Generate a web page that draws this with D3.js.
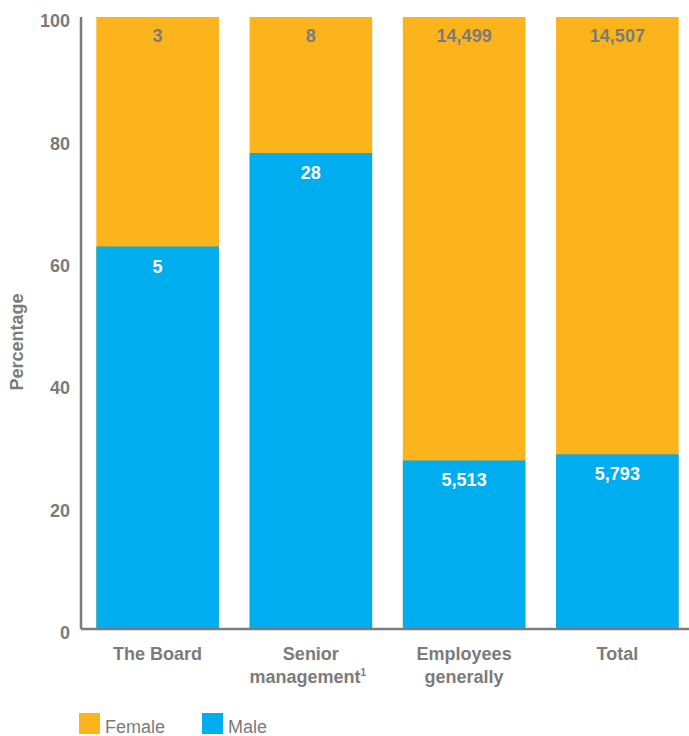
<!DOCTYPE html>
<html>
<head>
<meta charset="utf-8">
<script src="https://cdn.jsdelivr.net/npm/d3@7"></script>
<style>
  body { margin: 0; background: #fff; }
  svg { display: block; font-family: "Liberation Sans", Arial, Helvetica, sans-serif; }
</style>
</head>
<body>
<svg id="chart" width="689" height="736"></svg>
<script>
// categories and head counts
const categories = ['The Board', 'Senior management', 'Employees generally', 'Total'];
const categoryLines = [['The Board'], ['Senior', 'management'], ['Employees', 'generally'], ['Total']];
const maleCounts = [5, 28, 5513, 5793];
const femaleCounts = [3, 8, 14499, 14507];
const yTicks = [0, 20, 40, 60, 80, 100];

const orange = '#FBB41C';
const blue = '#00ADEE';
const grey = '#7B7B7B';

const svg = d3.select('#chart');
const plotLeft = 81, plotTop = 17, plotBottom = 629, plotRight = 694;

const x = d3.scaleBand()
  .domain(categories)
  .range([plotLeft, plotRight])
  .paddingInner(0.2)
  .paddingOuter(0.1);

const y = d3.scaleLinear()
  .domain([0, 100])
  .range([plotBottom, plotTop]);

const rows = categories.map((c, i) => {
  const total = maleCounts[i] + femaleCounts[i];
  return { cat: c, male: maleCounts[i], female: femaleCounts[i], malePct: maleCounts[i] / total * 100 };
});

// bars: female is the full 100% background, male from 0 up
svg.append('g').selectAll('rect')
  .data(rows)
  .enter()
  .append('rect')
  .attr('x', d => x(d.cat))
  .attr('y', y(100))
  .attr('width', x.bandwidth())
  .attr('height', y(0) - y(100))
  .style('fill', orange);

svg.append('g').selectAll('rect')
  .data(rows)
  .enter()
  .append('rect')
  .attr('x', d => x(d.cat))
  .attr('y', d => y(d.malePct))
  .attr('width', x.bandwidth())
  .attr('height', d => y(0) - y(d.malePct))
  .style('fill', blue);

const fmt = d3.format(',');

// value labels
svg.append('g').selectAll('text')
  .data(rows)
  .enter()
  .append('text')
  .attr('x', d => x(d.cat) + x.bandwidth() / 2)
  .attr('y', y(100) + 25)
  .attr('text-anchor', 'middle')
  .style('font-size', '18px')
  .style('font-weight', 'bold')
  .style('fill', grey)
  .text(d => fmt(d.female));

svg.append('g').selectAll('text')
  .data(rows)
  .enter()
  .append('text')
  .attr('x', d => x(d.cat) + x.bandwidth() / 2)
  .attr('y', d => y(d.malePct) + 26)
  .attr('text-anchor', 'middle')
  .style('font-size', '18px')
  .style('font-weight', 'bold')
  .style('fill', '#fff')
  .text(d => fmt(d.male));

// axes
const yAxis = svg.append('g')
  .attr('transform', `translate(${plotLeft},0)`)
  .call(d3.axisLeft(y).tickValues(yTicks).tickSize(0).tickPadding(11));
yAxis.select('.domain').attr('stroke', grey).attr('stroke-width', 2.5).attr('d', `M0,${plotTop}V${plotBottom}`);
yAxis.selectAll('text')
  .attr('y', 4)
  .style('font-size', '18px')
  .style('font-weight', 'bold')
  .style('fill', grey)
  .style('font-family', 'inherit');

svg.append('line')
  .attr('x1', plotLeft).attr('x2', 689)
  .attr('y1', plotBottom).attr('y2', plotBottom)
  .attr('stroke', grey).attr('stroke-width', 2.5);

// category labels
const xl = svg.append('g').selectAll('text')
  .data(categories)
  .enter()
  .append('text')
  .attr('x', d => x(d) + x.bandwidth() / 2)
  .attr('y', 660)
  .attr('text-anchor', 'middle')
  .style('font-size', '18px')
  .style('font-weight', 'bold')
  .style('fill', grey);

xl.each(function(d, i) {
  const t = d3.select(this);
  categoryLines[i].forEach((line, j) => {
    const ts = t.append('tspan')
      .attr('x', x(d) + x.bandwidth() / 2)
      .attr('dy', j === 0 ? 0 : 23)
      .text(line);
    if (i === 1 && j === 1) {
      ts.attr('dx', -3);
      t.append('tspan').attr('dy', -7).style('font-size', '10px').text('1');
    }
  });
});

// y title
svg.append('text')
  .attr('transform', 'translate(23,342) rotate(-90)')
  .attr('text-anchor', 'middle')
  .style('font-size', '18px')
  .style('font-weight', 'bold')
  .style('fill', grey)
  .text('Percentage');

// legend
const legend = [{ name: 'Female', color: orange }, { name: 'Male', color: blue }];
const lg = svg.append('g').selectAll('g')
  .data(legend)
  .enter()
  .append('g')
  .attr('transform', (d, i) => `translate(${79 + i * 123},713)`);
lg.append('rect').attr('width', 21).attr('height', 21).style('fill', d => d.color);
lg.append('text')
  .attr('x', 26).attr('y', 20)
  .style('font-size', '18px')
  .style('fill', grey)
  .text(d => d.name);
</script>
</body>
</html>
